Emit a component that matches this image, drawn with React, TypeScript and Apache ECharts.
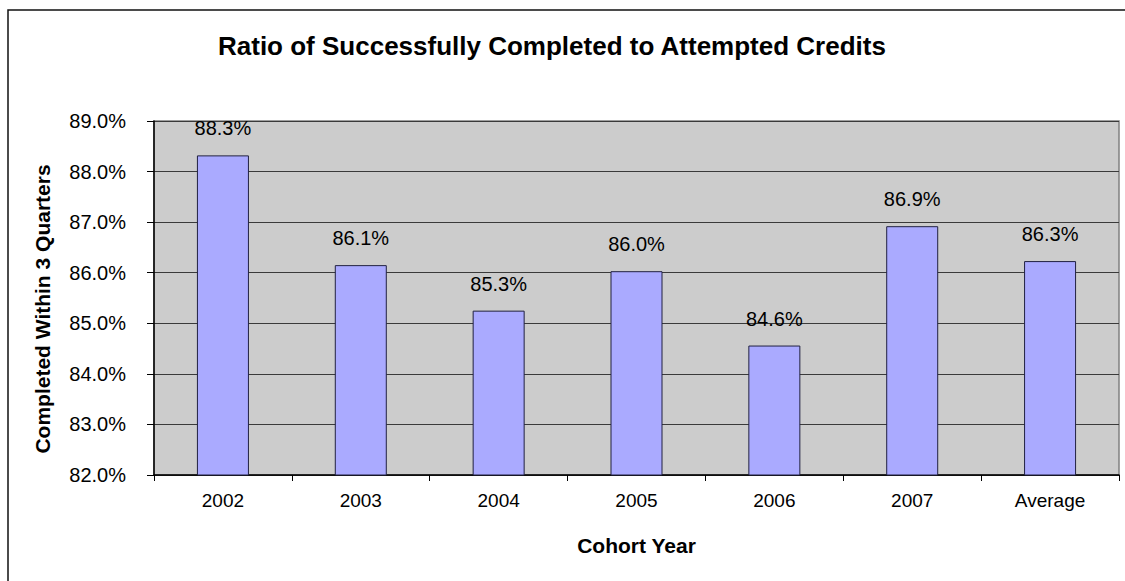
import React, { useEffect, useRef } from "react";
import * as echarts from "echarts";

const categories = ["2002", "2003", "2004", "2005", "2006", "2007", "Average"];
const values = [88.32, 86.15, 85.25, 86.03, 84.56, 86.92, 86.23];
const valueLabels = ["88.3%", "86.1%", "85.3%", "86.0%", "84.6%", "86.9%", "86.3%"];
const titleText = "Ratio of Successfully Completed to Attempted Credits";
const yAxisTitle = "Completed Within 3 Quarters";
const xAxisTitle = "Cohort Year";

const FONT = "'Liberation Sans', Arial, sans-serif";

export default function App() {
  const ref = useRef<HTMLDivElement>(null);
  useEffect(() => {
    if (!ref.current) return;
    const chart = echarts.init(ref.current, null, { renderer: "svg" });
    chart.setOption({
      animation: false,
      backgroundColor: "#ffffff",
      textStyle: { fontFamily: FONT },
      title: {
        text: titleText,
        left: 213,
        top: 28,
        textStyle: { fontFamily: FONT, fontSize: 26, fontWeight: "bold", color: "#000" },
      },
      graphic: [
        {
          type: "rect",
          shape: { x: 8, y: 10, width: 1300, height: 800 },
          style: { fill: "none", stroke: "#111", lineWidth: 1.5 },
          silent: true,
        },
        {
          type: "text",
          x: 42,
          y: 309,
          rotation: Math.PI / 2,
          silent: true,
          style: {
            text: yAxisTitle,
            fontFamily: FONT,
            fontSize: 21,
            fontWeight: "bold",
            fill: "#000",
            align: "center",
            verticalAlign: "middle",
          },
        },
      ],
      grid: {
        left: 154,
        right: 6,
        top: 121,
        bottom: 106,
        show: true,
        backgroundColor: "#CCCCCC",
        borderColor: "#808080",
        borderWidth: 1.5,
      },
      xAxis: {
        type: "category",
        data: categories,
        name: xAxisTitle,
        nameLocation: "middle",
        nameGap: 60,
        nameTextStyle: { fontFamily: FONT, fontSize: 21, fontWeight: "bold", color: "#000" },
        axisLine: { show: true, lineStyle: { color: "#000", width: 1.5 } },
        axisTick: { show: true, length: 6, lineStyle: { color: "#000" } },
        axisLabel: { fontFamily: FONT, fontSize: 19, color: "#000", margin: 16 },
      },
      yAxis: {
        type: "value",
        min: 82,
        max: 89,
        interval: 1,
        axisLine: { show: true, lineStyle: { color: "#000", width: 1.5 } },
        axisTick: { show: true, length: 7, lineStyle: { color: "#000" } },
        axisLabel: {
          fontFamily: FONT,
          fontSize: 20,
          color: "#000",
          margin: 28,
          formatter: (v: number) => v.toFixed(1) + "%",
        },
        splitLine: { show: true, lineStyle: { color: "#3a3a3a", width: 1.2 } },
      },
      series: [
        {
          type: "bar",
          data: values,
          barWidth: 52,
          itemStyle: { color: "#AAAAFF", borderColor: "#202040", borderWidth: 1 },
          label: {
            show: true,
            position: "top",
            distance: 17,
            fontFamily: FONT,
            fontSize: 20,
            color: "#000",
            formatter: (p: any) => valueLabels[p.dataIndex],
          },
        },
      ],
    });
    return () => chart.dispose();
  }, []);
  return (
    <div
      ref={ref}
      style={{ position: "absolute", left: 0, top: 0, width: 1125, height: 581 }}
    />
  );
}
